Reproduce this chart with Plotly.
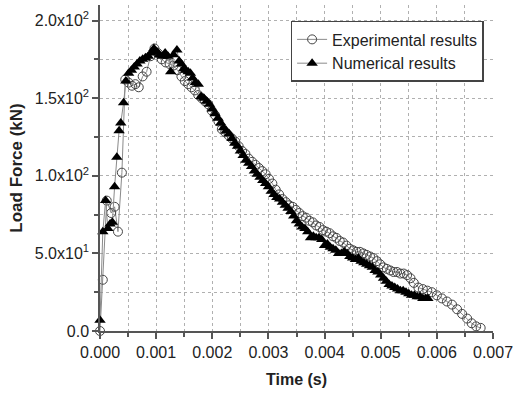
import plotly.graph_objects as go

# Experimental results (time s, load kN)
exp_t = [0.00000, 0.00005, 0.00012, 0.00020, 0.00026, 0.00032, 0.00039, 0.00045, 0.00051, 0.00057,
         0.00063, 0.00069, 0.00076, 0.00083, 0.00090, 0.00097, 0.00103, 0.00110, 0.00117, 0.00124,
         0.00131, 0.00138, 0.00145, 0.00151, 0.00157, 0.00163, 0.00169, 0.00175, 0.00181, 0.00187,
         0.00193, 0.00199, 0.00205, 0.00211, 0.00217, 0.00223, 0.00229, 0.00235, 0.00241, 0.00247,
         0.00253, 0.00259, 0.00265, 0.00271, 0.00277, 0.00283, 0.00289, 0.00295, 0.00301, 0.00307,
         0.00313, 0.00319, 0.00325, 0.00331, 0.00337, 0.00343, 0.00349, 0.00355, 0.00361, 0.00367,
         0.00373, 0.00379, 0.00385, 0.00391, 0.00397, 0.00403, 0.00409, 0.00415, 0.00421, 0.00427,
         0.00433, 0.00439, 0.00445, 0.00451, 0.00457, 0.00463, 0.00469, 0.00475, 0.00481, 0.00487,
         0.00493, 0.00499, 0.00505, 0.00511, 0.00517, 0.00523, 0.00529, 0.00535, 0.00541, 0.00547,
         0.00553, 0.00559, 0.00567, 0.00575, 0.00583, 0.00591, 0.00600, 0.00609, 0.00618, 0.00627,
         0.00636, 0.00645, 0.00654, 0.00662, 0.00670, 0.00678]
exp_f = [0, 33, 84, 76, 80, 64, 102, 162, 160, 158,
         159, 157, 164, 167, 177, 182, 179, 175, 173, 172,
         171, 168, 164, 161, 159, 157, 155, 152, 150, 148,
         146, 142, 139, 135, 130, 128, 126, 124, 122, 119,
         116, 114, 111, 109, 107, 105, 103, 101, 98, 95,
         91, 88, 85, 83, 81, 80, 78, 76, 74, 73,
         71, 70, 68, 67, 65, 64, 63, 61, 60, 58,
         57, 55, 53, 52, 51, 51, 50, 49, 48, 47,
         45, 43, 41, 40, 39, 38, 38, 37, 37, 36,
         34, 31, 28, 27, 26, 25, 23, 21, 19, 17,
         14, 11, 8, 5, 3, 2]

# Numerical results (time s, load kN)
num_t = [0.00000, 0.00005, 0.00010, 0.00014, 0.00018, 0.00022, 0.00026, 0.00030, 0.00034, 0.00037,
         0.00042, 0.00046, 0.00051, 0.00056, 0.00061, 0.00066, 0.00071, 0.00076, 0.00081, 0.00086,
         0.00091, 0.00096, 0.00101, 0.00106, 0.00111, 0.00116, 0.00121, 0.00126, 0.00131, 0.00137,
         0.00141, 0.00145, 0.00149, 0.00153, 0.00157, 0.00161, 0.00165, 0.00170, 0.00175, 0.00180,
         0.00185, 0.00190, 0.00195, 0.00200, 0.00205, 0.00210, 0.00215, 0.00220, 0.00225, 0.00230,
         0.00235, 0.00240, 0.00245, 0.00250, 0.00255, 0.00260, 0.00265, 0.00270, 0.00275, 0.00280,
         0.00285, 0.00290, 0.00295, 0.00300, 0.00305, 0.00310, 0.00315, 0.00320, 0.00325, 0.00330,
         0.00335, 0.00340, 0.00345, 0.00350, 0.00355, 0.00360, 0.00365, 0.00370, 0.00375, 0.00380,
         0.00385, 0.00390, 0.00395, 0.00400, 0.00405, 0.00410, 0.00415, 0.00420, 0.00425, 0.00430,
         0.00435, 0.00440, 0.00445, 0.00450, 0.00455, 0.00460, 0.00465, 0.00470, 0.00475, 0.00480,
         0.00485, 0.00490, 0.00495, 0.00500, 0.00505, 0.00510, 0.00515, 0.00520, 0.00525, 0.00530,
         0.00535, 0.00540, 0.00545, 0.00550, 0.00555, 0.00560, 0.00565, 0.00570, 0.00575, 0.00580,
         0.00584]
num_f = [7, 64, 84, 66, 69, 70, 93, 112, 129, 134,
         147, 161, 166, 168, 170, 172, 174, 175, 176, 177,
         179, 182, 180, 178, 177, 179, 177, 167, 178, 181,
         174, 172, 169, 168, 167, 166, 163, 160, 159, 151,
         150, 148, 146, 143, 140, 137, 134, 131, 129, 127,
         124, 121, 119, 116, 113, 110, 108, 106, 103, 101,
         99, 97, 95, 93, 90, 88, 86, 85, 83, 81,
         79, 77, 74, 71, 69, 67, 66, 64, 60, 61,
         60, 60, 59, 55, 56, 54, 53, 52, 50, 50,
         51, 50, 48, 47, 46, 47, 45, 44, 43, 42,
         41, 39, 38, 36, 34, 32, 30, 29, 28, 27,
         26, 26, 25, 24, 23, 23, 22, 22, 21, 21,
         21]

x_ticks = [0.000, 0.001, 0.002, 0.003, 0.004, 0.005, 0.006, 0.007]
x_labels = ["0.000", "0.001", "0.002", "0.003", "0.004", "0.005", "0.006", "0.007"]
y_ticks = [0, 50, 100, 150, 200]
y_labels = ["0.0", "5.0x10<sup>1</sup>", "1.0x10<sup>2</sup>", "1.5x10<sup>2</sup>", "2.0x10<sup>2</sup>"]

FONT = "Liberation Sans, Arial"

fig = go.Figure()
fig.add_trace(go.Scatter(
    x=exp_t, y=exp_f, mode="lines+markers", name="Experimental results",
    line=dict(color="#8a8a8a", width=1),
    marker=dict(symbol="circle-open", size=9, color="#444444", line=dict(width=1)),
    cliponaxis=False,
))
fig.add_trace(go.Scatter(
    x=num_t, y=num_f, mode="lines+markers", name="Numerical results",
    line=dict(color="#8a8a8a", width=1),
    marker=dict(symbol="triangle-up", size=10, color="#000000"),
    cliponaxis=False,
))

axis_common = dict(
    showline=True, linecolor="#555555", linewidth=1.5, mirror=False,
    ticks="outside", ticklen=6, tickcolor="#555555", tickwidth=1.5,
    showgrid=True, gridcolor="#b0b0b0", griddash="dot", gridwidth=1,
    zeroline=False, ticklabeloverflow="allow",
    tickfont=dict(family=FONT, size=16, color="#222222"),
)

fig.update_xaxes(
    range=[0, 0.007], tickvals=x_ticks, ticktext=x_labels,
    minor=dict(dtick=0.0005, tick0=0, ticks="outside", ticklen=4, tickcolor="#555555",
               showgrid=True, gridcolor="#b0b0b0", griddash="dot", gridwidth=1),
    title=dict(text="<b>Time (s)</b>", font=dict(family=FONT, size=16, color="#222222"),
               standoff=14),
    **axis_common,
)
fig.update_yaxes(
    range=[0, 210], tickvals=y_ticks, ticktext=y_labels,
    minor=dict(dtick=25, tick0=0, ticks="outside", ticklen=4, tickcolor="#555555",
               showgrid=True, gridcolor="#b0b0b0", griddash="dot", gridwidth=1),
    title=dict(text="<b>Load Force (kN)</b>", font=dict(family=FONT, size=17, color="#222222"),
               standoff=8),
    **axis_common,
)

fig.update_layout(
    width=518, height=394,
    margin=dict(l=100, r=19, t=5, b=63),
    paper_bgcolor="white", plot_bgcolor="white",
    showlegend=True,
    legend=dict(x=0.485, y=0.951, xanchor="left", yanchor="top",
                bgcolor="white", bordercolor="#444444", borderwidth=1.5,
                font=dict(family=FONT, size=16, color="#222222"),
                tracegroupgap=0),
)

fig.write_html("out.html")
